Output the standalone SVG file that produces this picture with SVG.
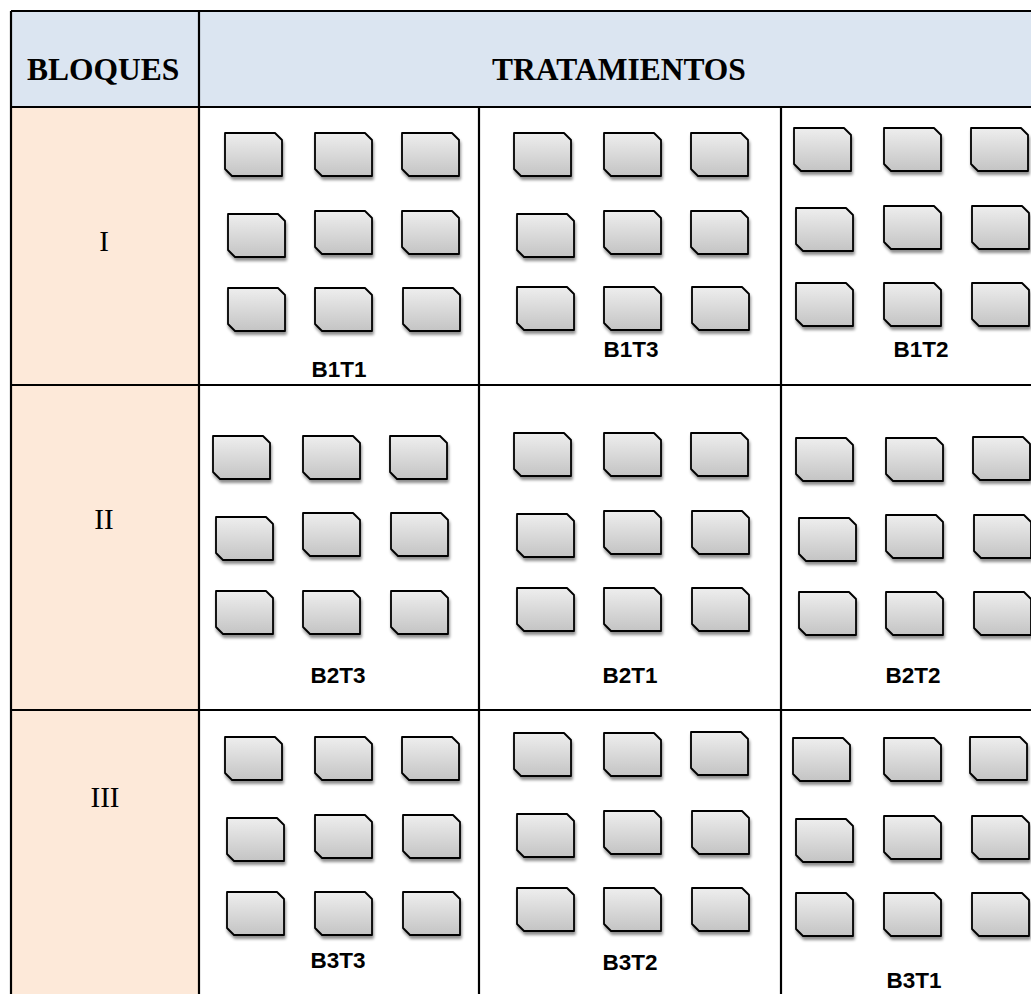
<svg xmlns="http://www.w3.org/2000/svg" xmlns:xlink="http://www.w3.org/1999/xlink" width="1031" height="994" viewBox="0 0 1031 994">
<style>
.grid{stroke:#000;stroke-width:2.2;fill:none}
.hdr{font-family:"Liberation Serif","Times New Roman",serif;font-weight:bold;font-size:31.5px;fill:#000}
.row{font-family:"Liberation Serif","Times New Roman",serif;font-size:29px;fill:#000;text-anchor:middle}
.lbl{font-family:"Liberation Sans",Arial,sans-serif;font-weight:bold;font-size:22.5px;fill:#000;text-anchor:middle}
.bx{fill:url(#gr);stroke:#000;stroke-width:1.8;stroke-linejoin:round;filter:url(#sh)}
</style>
<defs>
<linearGradient id="gr" x1="0" y1="0" x2="0" y2="1">
<stop offset="0" stop-color="#eeeeee"/>
<stop offset="1" stop-color="#c4c4c4"/>
</linearGradient>
<filter id="sh" x="-20%" y="-20%" width="150%" height="160%">
<feGaussianBlur in="SourceAlpha" stdDeviation="1.6"/>
<feOffset dx="1" dy="2.5" result="b"/>
<feComponentTransfer><feFuncA type="linear" slope="0.45"/></feComponentTransfer>
<feMerge><feMergeNode/><feMergeNode in="SourceGraphic"/></feMerge>
</filter>
<path id="box" class="bx" d="M0,0 H50 L57,7 V43 H7 L0,36 Z"/>
</defs>
<rect width="1031" height="994" fill="#fff"/>
<g id="table">
<rect x="11" y="11" width="1020" height="96" fill="#dbe5f1"/>
<rect x="11" y="107" width="188" height="887" fill="#fde9d9"/>
<path class="grid" d="M11,11 H1031 M11,107 H1031 M11,385 H1031 M11,710 H1031 M11,11 V994 M199,11 V994 M479,107 V994 M781,107 V994"/>
</g>
<g id="header">
<text class="hdr" x="27" y="80">BLOQUES</text>
<text class="hdr" x="619" y="80" text-anchor="middle">TRATAMIENTOS</text>
</g>
<g id="block-I"><text class="row" x="104" y="251">I</text></g>
<g id="block-II"><text class="row" x="104" y="529">II</text></g>
<g id="block-III"><text class="row" x="105" y="807">III</text></g>
<g id="B1T1">
<use href="#box" x="225" y="133"/><use href="#box" x="315" y="133"/><use href="#box" x="402" y="133"/>
<use href="#box" x="228" y="214"/><use href="#box" x="315" y="211"/><use href="#box" x="402" y="211"/>
<use href="#box" x="228" y="288"/><use href="#box" x="315" y="288"/><use href="#box" x="403" y="288"/>
<text class="lbl" x="339" y="377">B1T1</text>
</g>
<g id="B1T3">
<use href="#box" x="514" y="133"/><use href="#box" x="604" y="133"/><use href="#box" x="691" y="133"/>
<use href="#box" x="517" y="214"/><use href="#box" x="604" y="211"/><use href="#box" x="691" y="211"/>
<use href="#box" x="517" y="287"/><use href="#box" x="604" y="287"/><use href="#box" x="692" y="287"/>
<text class="lbl" x="631" y="357">B1T3</text>
</g>
<g id="B1T2">
<use href="#box" x="794" y="128"/><use href="#box" x="884" y="128"/><use href="#box" x="971" y="128"/>
<use href="#box" x="796" y="208"/><use href="#box" x="884" y="206"/><use href="#box" x="972" y="206"/>
<use href="#box" x="796" y="283"/><use href="#box" x="884" y="283"/><use href="#box" x="972" y="283"/>
<text class="lbl" x="921" y="357">B1T2</text>
</g>
<g id="B2T3">
<use href="#box" x="213" y="436"/><use href="#box" x="303" y="436"/><use href="#box" x="390" y="436"/>
<use href="#box" x="216" y="517"/><use href="#box" x="303" y="513"/><use href="#box" x="391" y="513"/>
<use href="#box" x="216" y="591"/><use href="#box" x="303" y="591"/><use href="#box" x="391" y="591"/>
<text class="lbl" x="338" y="683">B2T3</text>
</g>
<g id="B2T1">
<use href="#box" x="514" y="433"/><use href="#box" x="604" y="433"/><use href="#box" x="691" y="433"/>
<use href="#box" x="517" y="514"/><use href="#box" x="604" y="511"/><use href="#box" x="692" y="511"/>
<use href="#box" x="517" y="588"/><use href="#box" x="604" y="588"/><use href="#box" x="692" y="588"/>
<text class="lbl" x="630" y="683">B2T1</text>
</g>
<g id="B2T2">
<use href="#box" x="796" y="438"/><use href="#box" x="886" y="438"/><use href="#box" x="973" y="437"/>
<use href="#box" x="799" y="518"/><use href="#box" x="886" y="515"/><use href="#box" x="974" y="515"/>
<use href="#box" x="799" y="592"/><use href="#box" x="886" y="592"/><use href="#box" x="974" y="592"/>
<text class="lbl" x="913" y="683">B2T2</text>
</g>
<g id="B3T3">
<use href="#box" x="225" y="737"/><use href="#box" x="315" y="737"/><use href="#box" x="402" y="737"/>
<use href="#box" x="227" y="818"/><use href="#box" x="315" y="815"/><use href="#box" x="403" y="815"/>
<use href="#box" x="227" y="892"/><use href="#box" x="315" y="892"/><use href="#box" x="403" y="892"/>
<text class="lbl" x="338" y="968">B3T3</text>
</g>
<g id="B3T2">
<use href="#box" x="514" y="733"/><use href="#box" x="604" y="733"/><use href="#box" x="691" y="732"/>
<use href="#box" x="517" y="814"/><use href="#box" x="604" y="811"/><use href="#box" x="692" y="811"/>
<use href="#box" x="517" y="888"/><use href="#box" x="604" y="888"/><use href="#box" x="692" y="888"/>
<text class="lbl" x="630" y="970">B3T2</text>
</g>
<g id="B3T1">
<use href="#box" x="793" y="738"/><use href="#box" x="884" y="738"/><use href="#box" x="970" y="737"/>
<use href="#box" x="796" y="819"/><use href="#box" x="884" y="816"/><use href="#box" x="972" y="816"/>
<use href="#box" x="796" y="893"/><use href="#box" x="884" y="893"/><use href="#box" x="972" y="893"/>
<text class="lbl" x="914" y="988">B3T1</text>
</g>
<g id="connectors"/>
</svg>
